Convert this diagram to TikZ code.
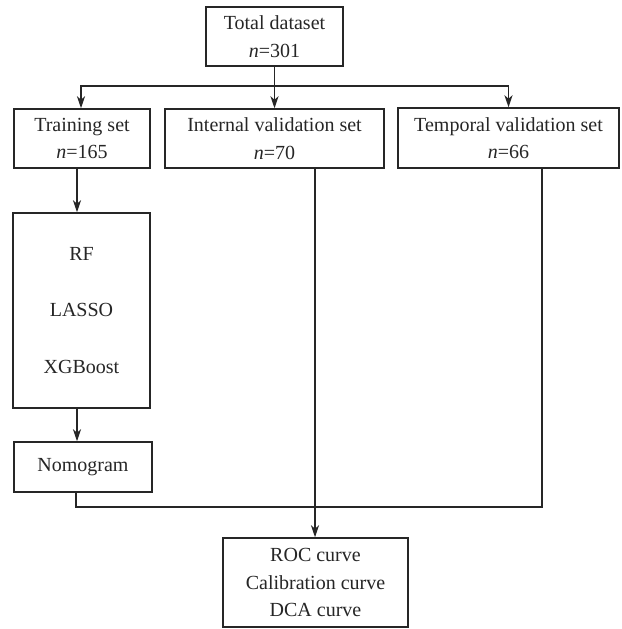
\documentclass[tikz,border=0pt]{standalone}
\usepackage{fontspec}
\setmainfont{Liberation Serif}
\usetikzlibrary{arrows.meta,calc}
\begin{document}
\begin{tikzpicture}[x=1pt,y=-1pt,
  box/.style={draw=black!85,line width=1.5pt,inner sep=0pt,align=center,
    font=\fontsize{20}{27.5}\selectfont,text=black!85},
  conn/.style={draw=black!85,line width=1.5pt},
  arr/.style={conn,-{Stealth[length=12pt,width=8pt,inset=3.5pt]}}]
\useasboundingbox (0,0) rectangle (621,629);
\fill[white] (0,0) rectangle (621,629);
\node[box,minimum width=137pt,minimum height=59pt] (total) at (274.5,36.5) {Total dataset\\\textit{n}=301};
\node[box,minimum width=136pt,minimum height=59pt] (train) at (82,138.5) {Training set\\\textit{n}=165};
\node[box,minimum width=219pt,minimum height=59pt] (internal) at (274.5,138.5) {Internal validation set\\\textit{n}=70};
\node[box,minimum width=221pt,minimum height=60pt] (temporal) at (508.5,138) {Temporal validation set\\\textit{n}=66};
\node[box,minimum width=137pt,minimum height=195pt] (methods) at (81.5,310.5) {RF\\[29pt]LASSO\\[29pt]XGBoost};
\node[box,minimum width=138pt,minimum height=50pt] (nomo) at (83,467) {Nomogram};
\node[box,minimum width=185pt,minimum height=89pt] (roc) at (315.5,582.5) {ROC curve\\Calibration curve\\DCA curve};
% branching from total dataset
\coordinate (br) at ($(total.south)+(0,19)$);
\draw[arr] (total.south) -- (internal.north);
\draw[arr] (br) -| ([xshift=-1pt]train.north);
\draw[arr] (br) -| (temporal.north);
% training column
\coordinate (colx) at (77,0);
\draw[arr] (train.south -| colx) -- (methods.north -| colx);
\draw[arr] (methods.south -| colx) -- (nomo.north -| colx);
% to evaluation
\coordinate (tp) at ([xshift=33.5pt]temporal.south);
\coordinate (join) at (tp |- 0,507);
\draw[conn] ([xshift=-7pt]nomo.south) |- (join) -- (tp);
\draw[arr] ([xshift=-0.5pt]roc.north |- internal.south) -- ([xshift=-0.5pt]roc.north);
\end{tikzpicture}
\end{document}
